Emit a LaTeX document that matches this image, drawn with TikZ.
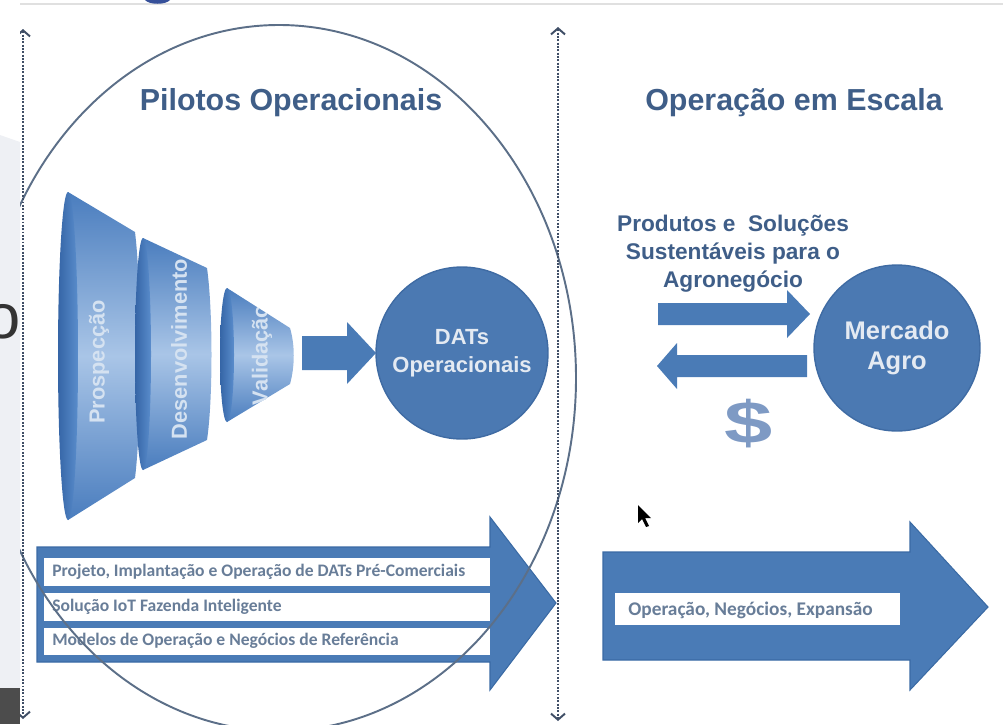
\documentclass[tikz,border=0pt]{standalone}
\usepackage{fontspec}
\setmainfont{Liberation Sans}
\newfontfamily\calibfont{Carlito}
\usetikzlibrary{arrows.meta}

\definecolor{titleblue}{HTML}{3F5E88}
\definecolor{arrowblue}{HTML}{4A7BB6}
\definecolor{arrowedge}{HTML}{3A6AA4}
\definecolor{discblue}{HTML}{4B79B2}
\definecolor{discedge}{HTML}{3F6BA3}
\definecolor{disctext}{HTML}{E4EAF2}
\definecolor{conedark}{HTML}{4A7DBE}
\definecolor{conelight}{HTML}{A9C5E7}
\definecolor{mouthdark}{HTML}{3565A6}
\definecolor{mouthmid}{HTML}{5A8DCC}
\definecolor{conetext}{HTML}{D5E2F1}
\definecolor{bandtext}{HTML}{687D98}
\definecolor{orbitgray}{HTML}{5C6F88}
\definecolor{guidegray}{HTML}{3F4E66}
\definecolor{stripgray}{HTML}{EEF0F4}
\definecolor{dollarblue}{HTML}{7E9AC4}

\tikzset{
  heading/.style={text=titleblue, font=\bfseries\fontsize{17.3}{20}\selectfont},
  disc/.style={circle, fill=discblue, draw=discedge, line width=0.8pt, inner sep=0pt, align=center, text=disctext},
  conelabel/.style={rotate=90, text=conetext, font=\bfseries\fontsize{12.4}{14}\selectfont},
  blockarrow/.style={fill=arrowblue, draw=arrowedge, line width=0.6pt},
  band/.style={fill=white},
  bandlabel/.style={anchor=west, inner sep=0pt, text=bandtext, font=\calibfont\bfseries\fontsize{10}{11}\selectfont},
  guide/.style={dash pattern=on 1.1pt off 0.8pt, line width=1.4pt, draw=guidegray,
    {Straight Barb[length=3.5pt,width=8pt,line width=1.1pt]}-{Straight Barb[length=3.5pt,width=8pt,line width=1.1pt]}},
  orbit/.style={draw=orbitgray, line width=1.1pt}
}

\begin{document}
\begin{tikzpicture}[x=0.02cm, y=-0.02cm]
\useasboundingbox (0,0) rectangle (1003,724);
% page beside the slide
\fill[stripgray] (0,135) -- (20,142) -- (20,688) -- (0,688) -- cycle;
\fill[black!70] (0,688) rectangle (20,724);
\begin{scope}
  \clip (0,0) rectangle (20,688);
  \node[anchor=east, inner sep=0pt, text=black!80, font=\fontsize{36}{36}\selectfont] (frag) at (21,322) {o};
\end{scope}
\draw[black!12, line width=0.8pt] (20,4) -- (1003,4);
\fill[titleblue!85!blue] (145,0) .. controls (149,5) and (166,5) .. (170,0) -- cycle;

\begin{scope}
\clip (20,5) rectangle (1003,724);
\node[heading] (pilotos) at (291,103) {Pilotos Operacionais};
\node[heading] (escala) at (794,103) {Operação em Escala};

% funnel
\shade[top color=conedark, bottom color=conedark, middle color=conelight] (68,192) -- (135,232) .. controls (142,290) and (142,420) .. (135,478) -- (68,520) -- cycle;
\shade[left color=mouthdark, right color=mouthmid] (68,356) ellipse [x radius=10, y radius=164];
\node[conelabel] (prosp) at (99,362) {Prospecção};

\shade[top color=conedark, bottom color=conedark, middle color=conelight] (143,238) -- (207,268) .. controls (213,310) and (213,400) .. (207,440) -- (143,470) -- cycle;
\shade[left color=mouthdark, right color=mouthmid] (143,354) ellipse [x radius=8, y radius=116];
\node[conelabel] (desenv) at (179,349) {Desenvolvimento};

\shade[top color=conedark, bottom color=conedark, middle color=conelight] (227,288) -- (290,328) .. controls (295,345) and (295,366) .. (290,384) -- (227,422) -- cycle;
\shade[left color=mouthdark, right color=mouthmid] (227,355) ellipse [x radius=7, y radius=67];
\begin{scope}
  \clip (227,288) -- (290,328) .. controls (295,345) and (295,366) .. (290,384) -- (227,422) -- cycle;
  \node[conelabel] (valid) at (262,355) {Validação};
\end{scope}

% into the DATs
\fill[arrowblue] (302,336) -- (347,336) -- (347,322) -- (376,353) -- (347,384) -- (347,370) -- (302,370) -- cycle;
\node[disc, minimum size=3.44cm, font=\bfseries\fontsize{12.5}{15.9}\selectfont] (dats) at (462,353) {DATs\\Operacionais};

% market side
\node[text=titleblue, align=center, font=\bfseries\fontsize{12.9}{15.9}\selectfont] (produtos) at (733,254) {Produtos e\ \ Soluções\\Sustentáveis para o\\Agronegócio};
\fill[arrowblue] (658,303) -- (787,303) -- (787,290) -- (810,314) -- (787,338) -- (787,325) -- (658,325) -- cycle;
\fill[arrowblue] (807,355) -- (677,355) -- (677,343) -- (657,366) -- (677,389) -- (677,377) -- (807,377) -- cycle;
\node[disc, minimum size=3.32cm, font=\bfseries\fontsize{14.5}{17}\selectfont] (mercado) at (897,348) {Mercado\\Agro};
\node[text=dollarblue, xscale=1.45, font=\bfseries\fontsize{34}{34}\selectfont] (cifrao) at (749,424) {\$};
\fill[black] (638,505) -- (638,523) -- (642,519) -- (646,527) -- (649,526) -- (645,518) -- (651,518) -- cycle;

% bottom arrows
\draw[blockarrow] (37,547) -- (490,547) -- (490,517) -- (556,603) -- (490,690) -- (490,662) -- (37,662) -- cycle;
\fill[band] (44,558) rectangle (490,586);
\fill[band] (44,593) rectangle (490,621);
\fill[band] (44,628) rectangle (490,655);
\node[bandlabel] (projeto) at (52,572) {Projeto, Implantação e Operação de DATs Pré-Comerciais};
\node[bandlabel] (iot) at (52,607) {Solução IoT Fazenda Inteligente};
\node[bandlabel] (modelos) at (52,641) {Modelos de Operação e Negócios de Referência};

\draw[blockarrow] (603,552) -- (910,552) -- (910,522) -- (988,607) -- (910,690) -- (910,660) -- (603,660) -- cycle;
\fill[band] (615,593) rectangle (900,625);
\node[bandlabel, font=\calibfont\bfseries\fontsize{11}{13}\selectfont] (operacao) at (628,610) {Operação, Negócios, Expansão};

% pilot phase and limits
\draw[orbit] (279,378) ellipse [x radius=297, y radius=353];
\coordinate (gl-top) at (23,29);
\coordinate (gl-bot) at (23,719);
\coordinate (gr-top) at (558,27);
\coordinate (gr-bot) at (558,721);
\draw[guide] (gl-top) -- (gl-bot);
\draw[guide] (gr-top) -- (gr-bot);
\end{scope}
\end{tikzpicture}
\end{document}
